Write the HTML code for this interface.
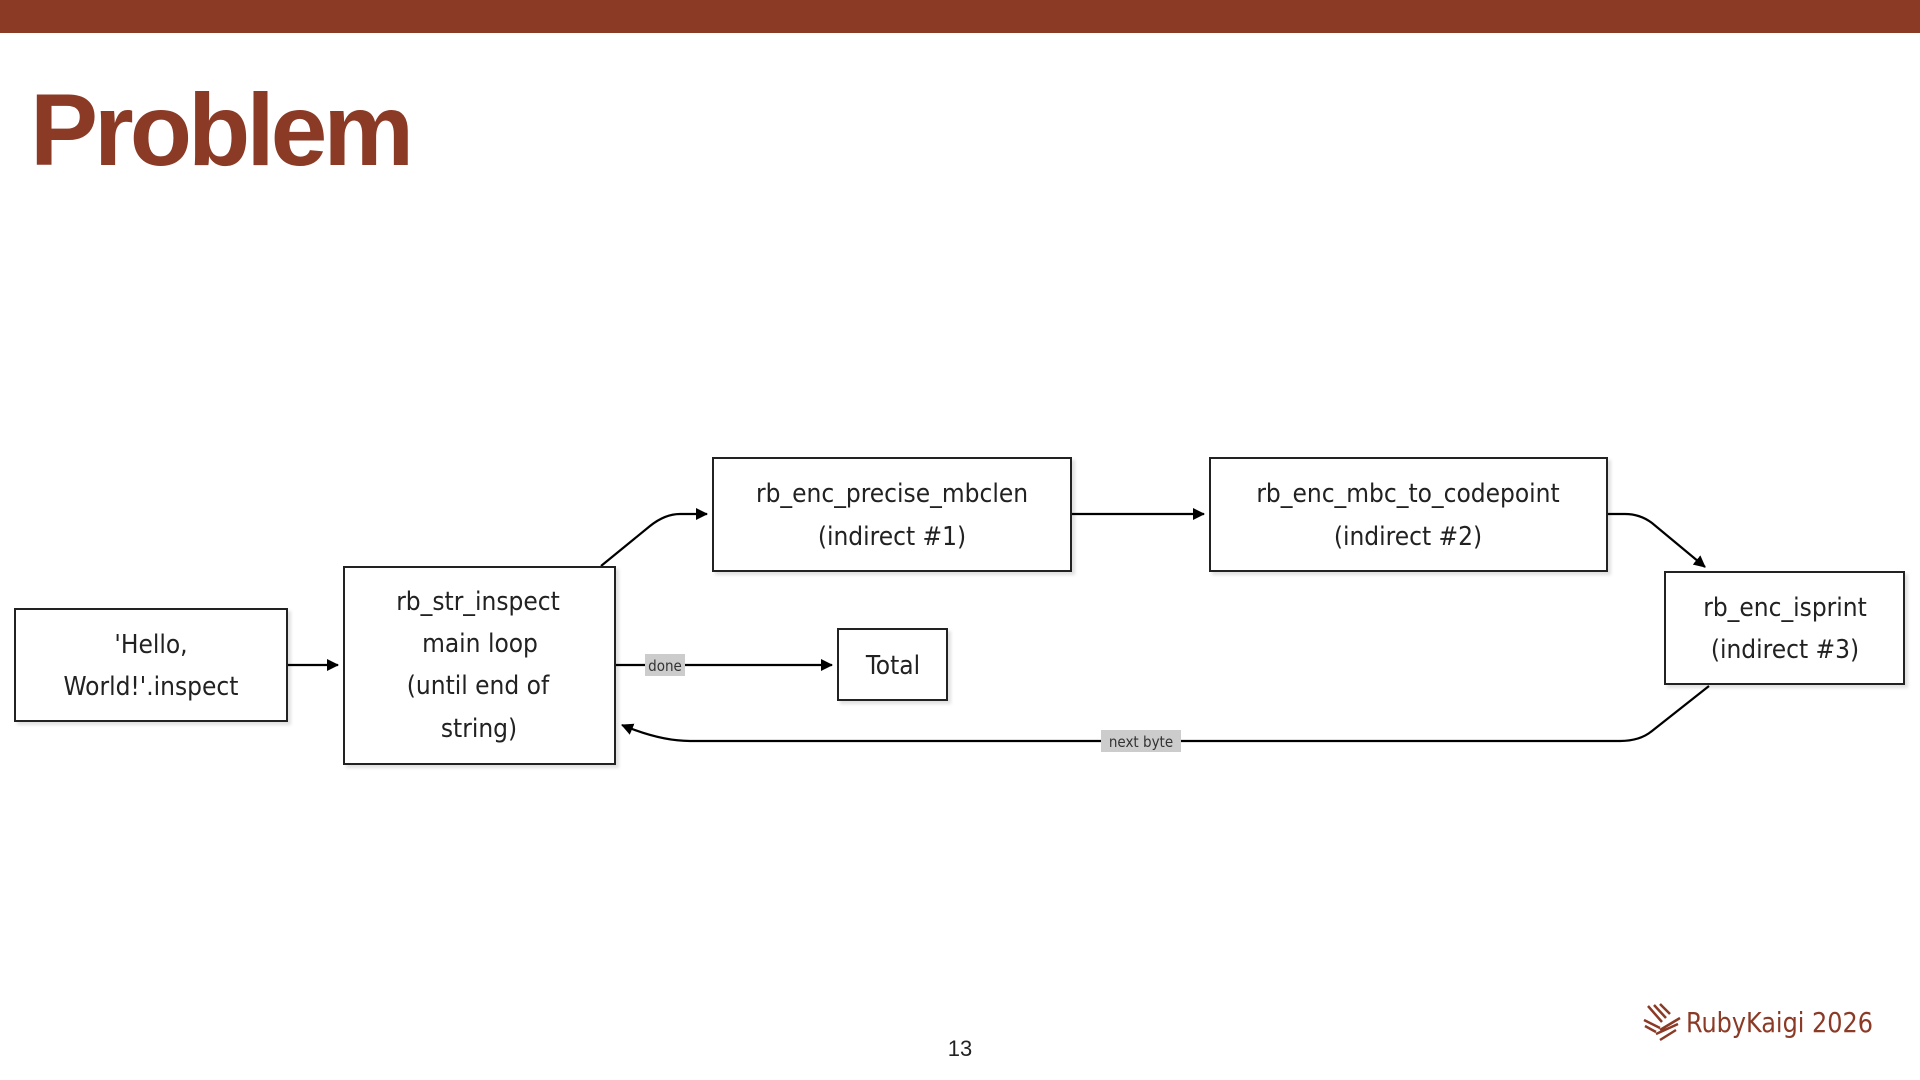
<!DOCTYPE html>
<html><head><meta charset="utf-8"><style>
html,body{margin:0;padding:0;background:#fff;}
svg{display:block}
</style></head><body>
<svg width="1920" height="1080" viewBox="0 0 1920 1080" xmlns="http://www.w3.org/2000/svg">
<defs>
<marker id="ah" markerWidth="12" markerHeight="12" refX="11" refY="6" orient="auto" markerUnits="userSpaceOnUse">
<path d="M0,0 L12,6 L0,12 z" fill="#000"/>
</marker>
<filter id="sh" x="-5%" y="-5%" width="115%" height="120%"><feDropShadow dx="3" dy="3" stdDeviation="1.5" flood-color="#000" flood-opacity="0.12"/></filter>
</defs>
<rect x="0" y="0" width="1920" height="33" fill="#8b3a26"/>
<text x="30" y="165" font-family="Liberation Sans, sans-serif" font-weight="bold" font-size="102" fill="#8b3a26" letter-spacing="-4">Problem</text>

<g fill="none" stroke="#000" stroke-width="2.2">
<path d="M287,665 L338,665" marker-end="url(#ah)"/>
<path d="M615,665 L832,665" marker-end="url(#ah)"/>
<path d="M601,566 L650,526 Q665,514 680,514 L707,514" marker-end="url(#ah)"/>
<path d="M1071,514 L1204,514" marker-end="url(#ah)"/>
<path d="M1607,514 L1625,514 Q1640,514 1652,523 L1705,567" marker-end="url(#ah)"/>
<path d="M1709,686 L1652,731 Q1640,741 1620,741 L690,741 Q660,741 622,725" marker-end="url(#ah)"/>
</g>

<g font-family="DejaVu Sans Condensed, DejaVu Sans, sans-serif" font-size="26" fill="#222" text-anchor="middle">
<rect x="15" y="609" width="272" height="112" fill="#fff" stroke="#222" stroke-width="2" filter="url(#sh)"/>
<text x="151" y="653">'Hello,</text><text x="151" y="695">World!'.inspect</text>
<rect x="344" y="567" width="271" height="197" fill="#fff" stroke="#222" stroke-width="2" filter="url(#sh)"/>
<text x="478" y="610">rb_str_inspect</text><text x="480" y="652">main loop</text><text x="478" y="694">(until end of</text><text x="479" y="737">string)</text>
<rect x="713" y="458" width="358" height="113" fill="#fff" stroke="#222" stroke-width="2" filter="url(#sh)"/>
<text x="892" y="502">rb_enc_precise_mbclen</text><text x="892" y="545">(indirect #1)</text>
<rect x="1210" y="458" width="397" height="113" fill="#fff" stroke="#222" stroke-width="2" filter="url(#sh)"/>
<text x="1408" y="502">rb_enc_mbc_to_codepoint</text><text x="1408" y="545">(indirect #2)</text>
<rect x="1665" y="572" width="239" height="112" fill="#fff" stroke="#222" stroke-width="2" filter="url(#sh)"/>
<text x="1785" y="616">rb_enc_isprint</text><text x="1785" y="658">(indirect #3)</text>
<rect x="838" y="629" width="109" height="71" fill="#fff" stroke="#222" stroke-width="2" filter="url(#sh)"/>
<text x="893" y="674">Total</text>
</g>

<rect x="645" y="654" width="40" height="22" fill="#ccc"/>
<text x="665" y="671" font-family="DejaVu Sans Condensed, DejaVu Sans, sans-serif" font-size="15" fill="#333" text-anchor="middle">done</text>
<rect x="1101" y="730" width="80" height="22" fill="#ccc"/>
<text x="1141" y="747" font-family="DejaVu Sans Condensed, DejaVu Sans, sans-serif" font-size="15" fill="#333" text-anchor="middle">next byte</text>

<text x="960" y="1056" font-family="Liberation Sans, sans-serif" font-size="22" fill="#222" text-anchor="middle">13</text>

<g stroke="#8b3a26" stroke-width="2.5" fill="none">
<path d="M1648,1006 L1662,1022 M1654,1005 L1666,1018 M1660,1004 L1670,1014"/>
<path d="M1680,1018 L1660,1030 M1678,1024 L1656,1034 M1676,1030 L1660,1040"/>
<path d="M1644,1020 L1660,1028 M1645,1026 L1656,1032"/>
</g>
<text x="1686" y="1032" font-family="DejaVu Sans Condensed, DejaVu Sans, sans-serif" font-size="28" fill="#8b3a26" textLength="187" lengthAdjust="spacingAndGlyphs">RubyKaigi 2026</text>
</svg>
</body></html>
